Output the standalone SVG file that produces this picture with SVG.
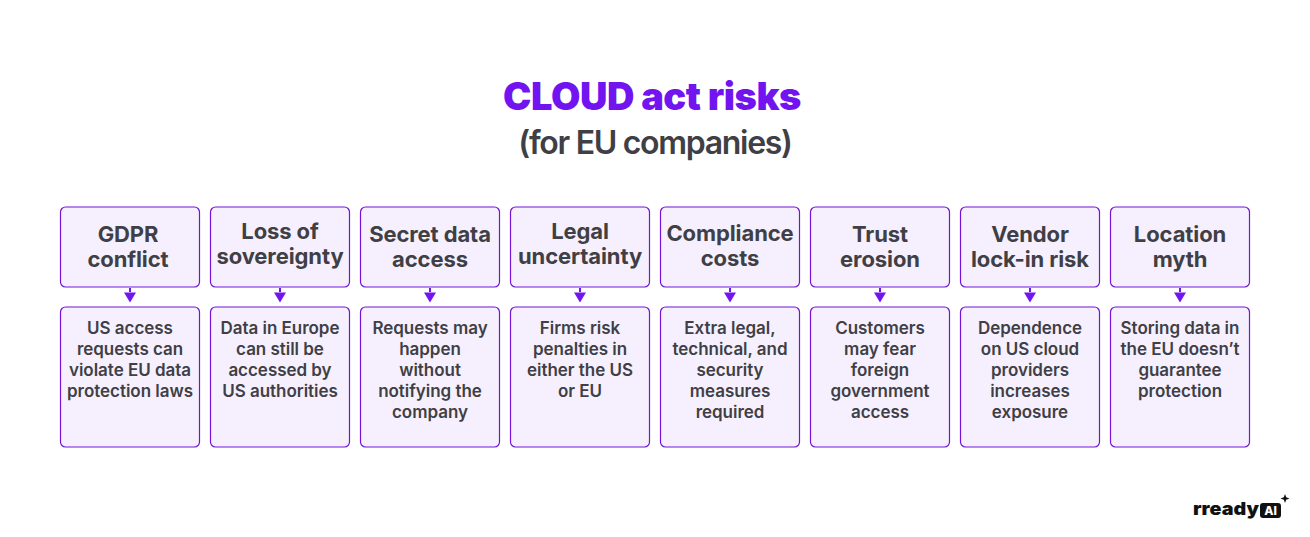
<svg xmlns="http://www.w3.org/2000/svg" width="1310" height="537" viewBox="0 0 1310 537">
<style>
text{font-family:"Inter","Liberation Sans",sans-serif;text-anchor:middle;fill:#403f45}
.t{font-size:38px;font-weight:900;fill:#7214f0;letter-spacing:-.45px}
.s{font-size:32px;font-weight:600;letter-spacing:-1.3px}
.h{font-size:22px;font-weight:700;letter-spacing:-.1px}
.b{font-size:17px;font-weight:600;letter-spacing:-.03px}
rect{fill:#f6f0fe;stroke:#7214d8;stroke-width:1.2}
.c line{stroke:#7214f0;stroke-width:2;stroke-dasharray:4 2}
.c path{fill:#7214f0}
</style>
<g id="title"><text class="t" x="652" y="110">CLOUD act risks</text><text class="s" x="655" y="154">(for EU companies)</text></g>
<g id="n1"><rect x="60.500" y="207" width="139" height="80" rx="5"/><text class="h" x="128" y="242">GDPR</text><text class="h" x="128" y="267">conflict</text></g>
<g id="d1"><rect x="60.500" y="307" width="139" height="140" rx="5"/><text class="b" x="130" y="334">US access</text><text class="b" x="130" y="355">requests can</text><text class="b" x="130" y="376">violate EU data</text><text class="b" x="130" y="397">protection laws</text></g>
<g id="n2"><rect x="210.500" y="207" width="139" height="80" rx="5"/><text class="h" x="280" y="239">Loss of</text><text class="h" x="280" y="264">sovereignty</text></g>
<g id="d2"><rect x="210.500" y="307" width="139" height="140" rx="5"/><text class="b" x="280" y="334">Data in Europe</text><text class="b" x="280" y="355">can still be</text><text class="b" x="280" y="376">accessed by</text><text class="b" x="280" y="397">US authorities</text></g>
<g id="n3"><rect x="360.500" y="207" width="139" height="80" rx="5"/><text class="h" x="430" y="242">Secret data</text><text class="h" x="430" y="267">access</text></g>
<g id="d3"><rect x="360.500" y="307" width="139" height="140" rx="5"/><text class="b" x="430" y="334">Requests may</text><text class="b" x="430" y="355">happen</text><text class="b" x="430" y="376">without</text><text class="b" x="430" y="397">notifying the</text><text class="b" x="430" y="418">company</text></g>
<g id="n4"><rect x="510.500" y="207" width="139" height="80" rx="5"/><text class="h" x="580" y="239">Legal</text><text class="h" x="580" y="264">uncertainty</text></g>
<g id="d4"><rect x="510.500" y="307" width="139" height="140" rx="5"/><text class="b" x="580" y="334">Firms risk</text><text class="b" x="580" y="355">penalties in</text><text class="b" x="580" y="376">either the US</text><text class="b" x="580" y="397">or EU</text></g>
<g id="n5"><rect x="660.500" y="207" width="139" height="80" rx="5"/><text class="h" x="730" y="241">Compliance</text><text class="h" x="730" y="266">costs</text></g>
<g id="d5"><rect x="660.500" y="307" width="139" height="140" rx="5"/><text class="b" x="730" y="334">Extra legal,</text><text class="b" x="730" y="355">technical, and</text><text class="b" x="730" y="376">security</text><text class="b" x="730" y="397">measures</text><text class="b" x="730" y="418">required</text></g>
<g id="n6"><rect x="810.500" y="207" width="139" height="80" rx="5"/><text class="h" x="880" y="242">Trust</text><text class="h" x="880" y="267">erosion</text></g>
<g id="d6"><rect x="810.500" y="307" width="139" height="140" rx="5"/><text class="b" x="880" y="334">Customers</text><text class="b" x="880" y="355">may fear</text><text class="b" x="880" y="376">foreign</text><text class="b" x="880" y="397">government</text><text class="b" x="880" y="418">access</text></g>
<g id="n7"><rect x="960.500" y="207" width="139" height="80" rx="5"/><text class="h" x="1030" y="242">Vendor</text><text class="h" x="1030" y="267">lock-in risk</text></g>
<g id="d7"><rect x="960.500" y="307" width="139" height="140" rx="5"/><text class="b" x="1030" y="334">Dependence</text><text class="b" x="1030" y="355">on US cloud</text><text class="b" x="1030" y="376">providers</text><text class="b" x="1030" y="397">increases</text><text class="b" x="1030" y="418">exposure</text></g>
<g id="n8"><rect x="1110.500" y="207" width="139" height="80" rx="5"/><text class="h" x="1180" y="242">Location</text><text class="h" x="1180" y="267">myth</text></g>
<g id="d8"><rect x="1110.500" y="307" width="139" height="140" rx="5"/><text class="b" x="1180" y="334">Storing data in</text><text class="b" x="1180" y="355">the EU doesn’t</text><text class="b" x="1180" y="376">guarantee</text><text class="b" x="1180" y="397">protection</text></g>
<g id="connectors" class="c">
<line x1="130" y1="288" x2="130" y2="294"/><path d="M124 292.500h12l-6 10z"/>
<line x1="280" y1="288" x2="280" y2="294"/><path d="M274 292.500h12l-6 10z"/>
<line x1="430" y1="288" x2="430" y2="294"/><path d="M424 292.500h12l-6 10z"/>
<line x1="580" y1="288" x2="580" y2="294"/><path d="M574 292.500h12l-6 10z"/>
<line x1="730" y1="288" x2="730" y2="294"/><path d="M724 292.500h12l-6 10z"/>
<line x1="880" y1="288" x2="880" y2="294"/><path d="M874 292.500h12l-6 10z"/>
<line x1="1030" y1="288" x2="1030" y2="294"/><path d="M1024 292.500h12l-6 10z"/>
<line x1="1180" y1="288" x2="1180" y2="294"/><path d="M1174 292.500h12l-6 10z"/>
</g>
<g id="logo">
<text x="1226" y="515" textLength="66" lengthAdjust="spacingAndGlyphs" style="font-size:18px;font-weight:900;fill:#111">rready</text>
<rect x="1260" y="503" width="21" height="15" rx="3" style="fill:#111;stroke:none"/>
<text x="1270.500" y="515" style="font-size:12px;font-weight:800;fill:#fff">AI</text>
<path d="M1285 494l1.200 3.300 3.300 1.200-3.300 1.200-1.200 3.300-1.200-3.300-3.300-1.200 3.300-1.200z" style="fill:#111"/>
</g>
</svg>
